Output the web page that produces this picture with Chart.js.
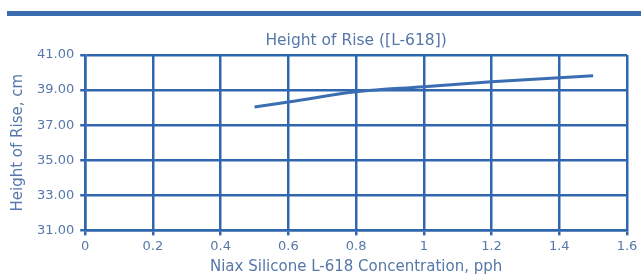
<!DOCTYPE html>
<html>
<head>
<meta charset="utf-8">
<script src="https://cdn.jsdelivr.net/npm/chart.js@4"></script>
<style>
  html, body { margin: 0; padding: 0; background: #ffffff; }
  #wrap { width: 641px; height: 276px; position: relative; }
</style>
</head>
<body>
<div id="wrap"><canvas id="riseChart"></canvas></div>
<script>
// Height of rise vs. Niax Silicone L-618 concentration
const concentration = [0.5, 0.6, 0.8, 1.0, 1.2, 1.4, 1.5];
const heightOfRise = [38.04, 38.32, 38.90, 39.19, 39.47, 39.70, 39.82];

const chartTitle = 'Height of Rise ([L-618])';
const xAxisTitle = 'Niax Silicone L-618 Concentration, pph';
const yAxisTitle = 'Height of Rise, cm';

const gridBlue = '#2f66ae';
const textBlue = '#5677a9';

// thick header bar across the top, title centred over the plot area
const headerBar = {
    id: 'headerBar',
    beforeDraw(chart) {
        const ctx = chart.ctx;
        ctx.save();
        ctx.fillStyle = '#3a6cb0';
        ctx.fillRect(7, 11, chart.width - 7, 5);
        ctx.restore();
    },
    afterDraw(chart) {
        const ctx = chart.ctx;
        const area = chart.chartArea;
        ctx.save();
        ctx.fillStyle = textBlue;
        ctx.font = '15.5px "DejaVu Sans"';
        ctx.textAlign = 'center';
        ctx.textBaseline = 'middle';
        ctx.fillText(chartTitle, (area.left + area.right) / 2, 41);
        ctx.restore();
    }
};

const ctx = document.getElementById('riseChart').getContext('2d');

new Chart(ctx, {
    type: 'line',
    data: {
        datasets: [{
            label: 'Height of Rise',
            data: concentration.map((x, i) => ({ x: x, y: heightOfRise[i] })),
            borderColor: '#3b6db3',
            borderWidth: 3,
            pointRadius: 0,
            fill: false,
            tension: 0.4
        }]
    },
    options: {
        responsive: true,
        maintainAspectRatio: false,
        animation: false,
        layout: {
            padding: { top: 55, right: 14, left: 9, bottom: 0 }
        },
        plugins: {
            legend: { display: false },
            tooltip: { enabled: false },
            title: { display: false }
        },
        scales: {
            x: {
                type: 'linear',
                min: 0,
                max: 1.6,
                ticks: {
                    stepSize: 0.2,
                    color: textBlue,
                    font: { family: 'DejaVu Sans', size: 13 },
                    padding: 3,
                    maxRotation: 0,
                    callback: v => String(Math.round(v * 10) / 10)
                },
                grid: {
                    color: gridBlue,
                    lineWidth: 2.5,
                    tickLength: 5,
                    tickColor: gridBlue
                },
                border: { color: gridBlue, width: 2.5 },
                title: {
                    display: true,
                    text: xAxisTitle,
                    color: textBlue,
                    font: { family: 'DejaVu Sans', size: 15 },
                    padding: { top: 1, bottom: 0 }
                }
            },
            y: {
                min: 31,
                max: 41,
                ticks: {
                    stepSize: 2,
                    color: textBlue,
                    font: { family: 'DejaVu Sans', size: 13 },
                    padding: 6,
                    callback: v => v.toFixed(2)
                },
                grid: {
                    color: gridBlue,
                    lineWidth: 2.5,
                    tickLength: 5,
                    tickColor: gridBlue
                },
                border: { color: gridBlue, width: 2.5 },
                title: {
                    display: true,
                    text: yAxisTitle,
                    color: textBlue,
                    font: { family: 'DejaVu Sans', size: 15 },
                    padding: { top: 0, bottom: 4 }
                }
            }
        }
    },
    plugins: [headerBar]
});
</script>
</body>
</html>
